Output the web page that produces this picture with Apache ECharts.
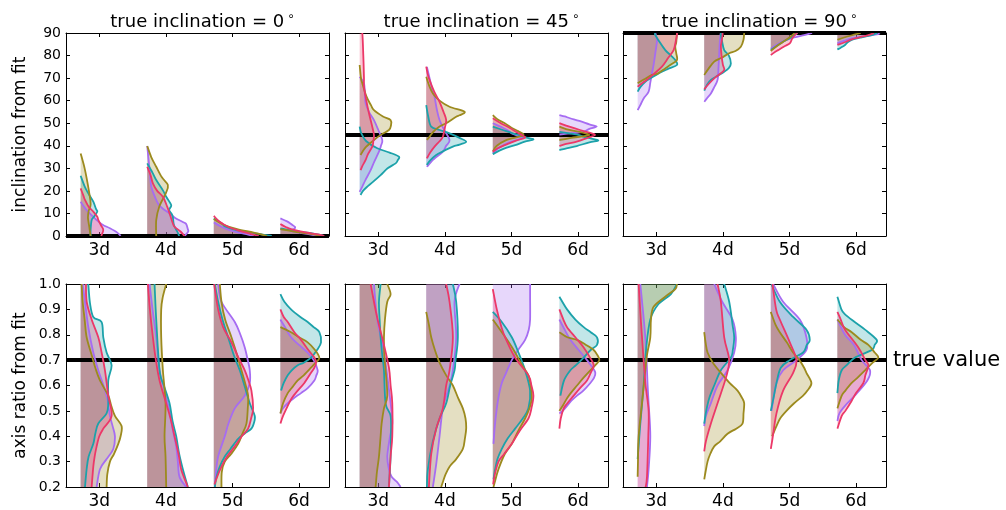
<!DOCTYPE html>
<html><head><meta charset="utf-8">
<script src="https://cdn.jsdelivr.net/npm/echarts@6/dist/echarts.min.js"></script>
<style>html,body{margin:0;padding:0;background:#fff}#c{width:1006px;height:510px}</style>
</head><body><div id="c"></div>
<script>
const categories = ['3d', '4d', '5d', '6d'];
const trueInclinations = [0, 45, 90];
const trueAxisRatio = 0.7;
const incTicks = [0, 10, 20, 30, 40, 50, 60, 70, 80, 90];
const ratioTicks = [0.2, 0.3, 0.4, 0.5, 0.6, 0.7, 0.8, 0.9, 1.0];
const seriesColors = ['#9c8a1e', '#1ca2aa', '#ec3868', '#a66cf2'];
const drawOrder = [3, 1, 0, 2]; // purple, teal, olive, red

// Each array: one half-violin per category, as [value, width in % of category spacing], top to bottom.
// ---- inclination from fit, true inclination = 0
const inc0Olive = [
  [[36.6,0],[30,6],[24,10],[18.9,13],[14,15],[11,12],[8,11],[4,13],[0,15]],
  [[39.9,0],[35,6],[30.7,13.5],[26,22],[22.6,31],[19,28],[13,18],[7,13.5],[0,13.5]],
  [[7.5,0],[5,15],[3,35],[1.5,60],[0,80]],
  [[3,0],[2,20],[1,45],[0,60]]
];
const inc0Teal = [
  [[26.7,0],[22,6],[18.9,11.5],[15.2,19],[12,23],[10.8,25],[8.5,20],[7,16.5],[3,15],[0,15]],
  [[32.2,0],[28,8],[24.8,13.5],[20,24],[17.4,28.5],[13.7,36],[11.5,33],[9,38],[5,40],[2,45],[0,48]],
  [[7.8,0],[5.5,12],[4.1,17.5],[2.5,35],[1.9,47.5],[0.8,70],[0,87]],
  [[3.4,0],[2.5,15],[1.5,40],[0.5,60],[0,65]]
];
const inc0Red = [
  [[21.1,0],[18,4],[16,6.5],[13,12],[10.8,19],[8.5,25],[7.1,26.5],[4.5,31],[2.7,34],[0,31]],
  [[30.7,0],[27,5],[23.3,8.5],[20,15],[17.4,23.5],[13,30],[10,33.5],[6,38],[4.1,41],[2,50],[0,56]],
  [[8.9,0],[7,6],[5.6,12.5],[4,22],[2.4,37.5],[1,55],[0,67.5]],
  [[5.3,0],[4,8],[3,16],[2,30],[1.2,46],[0.5,60],[0,66]]
];
const inc0Purple = [
  [[15.2,0],[13,5],[11.5,9],[9,17],[7.1,24],[5,33],[3.4,44],[1.5,55],[0,60]],
  [[39.9,0],[34,2],[28,4],[21.9,6],[17,12],[14,17],[12,24],[10,33.5],[8,42],[6,55],[5.3,58.5],[3,61],[1.9,61.5],[0,56]],
  [[6,0],[4,12],[2.5,25],[1,45],[0,60]],
  [[7.8,0],[6.5,10],[5.3,16],[4,22],[3,20],[2.4,14],[1.6,25],[1,40],[0,55]]
];
// ---- inclination from fit, true inclination = 45
const inc45Olive = [
  [[75.8,0],[70,2],[67.7,4],[62,10],[58,17],[55.8,21.5],[53,35],[51.4,46.5],[49,47],[47,44],[44.5,30],[42.5,21.5],[39,8],[35.9,1.5]],
  [[70.6,0],[67,4],[63.2,10],[60,20],[57.3,35],[55.1,57.5],[53.5,50],[52.9,45],[50,30],[48.5,20],[46,10],[44,5],[42.6,1]],
  [[53.6,0],[51.5,8],[50,18],[48,28],[46.5,38],[44.8,46],[43.5,32],[42.5,20],[40,6],[37.5,0]],
  [[48.5,0],[47,15],[46,32],[44.8,45],[44,30],[43.5,18],[42.5,0]]
];
const inc45Teal = [
  [[48.5,0],[45.5,2.5],[42,10],[38.9,26.5],[37,45],[35.2,59],[33.5,57],[32.2,54],[30,42],[27,31.5],[24,20],[21.9,11.5],[20,5],[18.2,1.5]],
  [[58,0],[53,3],[48.5,7.5],[47,20],[45.5,35],[43.5,50],[41.8,60],[40.5,50],[39.6,40],[37.5,25],[35.9,15],[33.5,6],[31.5,1]],
  [[48.5,0],[47,15],[45.5,30],[44.8,38.5],[43.5,52],[42.8,61],[41.8,48],[40.3,33.5],[38.5,15],[36.3,0]],
  [[46.2,0],[45.5,15],[44.7,30],[44,36],[43.2,48],[42.3,58.5],[41.5,45],[39.9,26],[39,12],[38.1,0]]
];
const inc45Red = [
  [[96,1],[90,4],[80,5.5],[70,6.5],[66.2,6.5],[60,10],[54.4,14],[49,18.5],[44.8,21.5],[42,20.5],[39.6,19],[36,12],[33.7,9],[31,4],[29.2,1.5]],
  [[75.1,0],[72,2],[69.1,5],[64,12],[59.5,20],[55,26],[51.4,30],[48,28],[44,25],[42,20],[39.6,12.5],[37,6],[34.4,1]],
  [[52.2,0],[50,12],[48,25],[46,36],[44.5,45],[43.5,48],[42.3,35],[40.3,18],[39,8],[37.4,0]],
  [[50,0],[48.5,15],[47,31],[45.8,45],[44.8,53.5],[43.5,42],[41.8,26],[40.8,10],[39.9,0]]
];
const inc45Purple = [
  [[70.6,0],[67.7,6.5],[62,8],[58.8,9],[55,14],[51.4,21.5],[47,28],[42.5,34],[40,32],[37.4,29],[33,22],[29.2,16.5],[25,9],[21.9,4],[19.6,0]],
  [[75,1],[70,5],[65,9],[61.7,12.5],[56,16],[51.4,20],[47,27],[42.5,35],[40,30],[37.4,25],[35,15],[33.7,10],[30.7,1]],
  [[50,0],[48,15],[46.5,24],[45.5,28.5],[44.4,38],[43.3,43.5],[41.5,25],[38.9,8.5],[36.6,0]],
  [[53.6,0],[53,8],[52.2,16],[51,30],[49.5,45],[48.5,56],[47.5,45],[46.2,36],[45.5,16],[45,0]]
];
// ---- inclination from fit, true inclination = 90
const inc90Olive = [
  [[90,59],[86,58],[83.9,56.5],[81,58],[78,59],[76,50],[74.3,41.5],[72,30],[71.4,21.5],[69.5,10],[67.7,0]],
  [[90,60],[87,59],[83.9,55],[82,47],[81,37.5],[79,26],[77.3,15],[74,6],[71.4,0]],
  [[90,36],[88,28],[86,18],[84,8],[82,0]],
  [[90,35],[89,22],[88,10],[87,0]]
];
const inc90Teal = [
  [[90,26],[89.1,26.5],[86,33],[82.4,41.5],[80,50],[78,56.5],[75.8,59],[74,45],[72.1,31.5],[70,20],[68.4,11.5],[66,4],[64,0]],
  [[90,25],[89.1,25],[86,27],[82.4,30],[80,37],[76.5,40],[74.5,37],[72.8,30],[71,20],[69.2,10],[67,4],[64.4,0]],
  [[90,40],[88,30],[86,18],[84,8],[82.5,0]],
  [[90,60],[89.1,51.5],[88,35],[86.9,21.5],[85.8,15],[84.7,11.5],[83.5,5],[82.7,0]]
];
const inc90Red = [
  [[90,59],[89.1,59],[86,57],[82.4,54],[79,46],[75.1,36.5],[72,25],[69.9,16.5],[68,8],[66.2,0]],
  [[90,27.5],[89,27.5],[86,26],[83.9,25],[80,26],[76,28],[73.6,30],[71.5,22],[69.9,15],[67.5,7],[65,0]],
  [[90,40],[89,36],[87.5,32],[85.4,28.5],[84,20],[82.4,11],[81.3,5],[80.2,0]],
  [[90,55],[89.1,46.5],[88,32],[87.2,21.5],[86,12],[84.7,0]]
];
const inc90Purple = [
  [[90,26.5],[86.9,29],[84,28],[81,26.5],[76,24],[72.1,21.5],[68,19],[64,16.5],[61,9],[58,4],[55.8,0]],
  [[90,25],[88,24],[84,23],[81,22.5],[75,21.5],[69.2,20],[66,15],[63.2,10],[61,4],[59.5,0]],
  [[90,62],[89.1,50],[88,35],[86.5,20],[85,10],[84,5],[83,0]],
  [[90,62],[89.5,61],[88.5,40],[87.6,21.5],[86.5,10],[85.4,0]]
];
// ---- axis ratio from fit, true inclination = 0
const ar0Olive = [
  [[1.0,1.5],[0.93,3],[0.86,6],[0.79,9],[0.72,16.5],[0.67,22],[0.62,29],[0.56,41.5],[0.52,46],[0.48,51.5],[0.44,61.5],[0.40,60],[0.37,56.5],[0.33,50],[0.30,44],[0.25,40],[0.2,39]],
  [[1.0,28.5],[0.95,23.5],[0.9,21],[0.79,21],[0.66,23.5],[0.53,27.5],[0.4,26],[0.32,27.5],[0.2,28.5]],
  [[1.0,9],[0.93,11.5],[0.86,17],[0.79,26.5],[0.72,35],[0.66,41.5],[0.61,47],[0.56,51.5],[0.51,51],[0.45,49],[0.41,43],[0.37,36.5],[0.33,26],[0.3,16.5],[0.26,12],[0.2,11.5]],
  [[0.83,0],[0.81,16],[0.79,28],[0.77,41],[0.74,52],[0.71,58.5],[0.69,53],[0.67,46],[0.64,35],[0.62,26],[0.59,17],[0.57,11],[0.53,4],[0.49,0]]
];
const ar0Teal = [
  [[1.0,11.5],[0.925,14],[0.87,19],[0.85,31.5],[0.79,34],[0.73,39],[0.68,46.5],[0.62,41.5],[0.53,41.5],[0.49,39],[0.45,26.5],[0.41,22],[0.37,19],[0.32,12],[0.27,9],[0.2,6.5]],
  [[1.0,11],[0.86,13.5],[0.66,18.5],[0.6,25],[0.53,33.5],[0.46,38],[0.4,43.5],[0.33,48],[0.27,53.5],[0.2,61]],
  [[1.0,1.5],[0.93,6.5],[0.86,13],[0.79,21.5],[0.72,30],[0.66,39],[0.6,46],[0.53,54],[0.48,61.5],[0.45,60],[0.43,56.5],[0.41,46],[0.39,36.5],[0.35,25],[0.32,16.5],[0.28,9],[0.24,4],[0.2,1.5]],
  [[0.96,0],[0.93,6],[0.9,16],[0.87,30],[0.85,41],[0.83,50],[0.81,58.5],[0.77,61],[0.74,55],[0.71,46],[0.69,35],[0.68,26],[0.66,17],[0.64,11],[0.61,5],[0.58,1]]
];
const ar0Red = [
  [[1.0,8],[0.93,9],[0.86,16.5],[0.79,26.5],[0.73,31.5],[0.66,36.5],[0.56,41.5],[0.48,46.5],[0.43,34],[0.40,28],[0.36,24],[0.32,21],[0.28,19],[0.2,16.5]],
  [[1.0,1],[0.9,4],[0.79,8.5],[0.7,13],[0.62,18.5],[0.53,28.5],[0.47,35],[0.4,41],[0.33,47],[0.27,51],[0.22,58],[0.2,61]],
  [[1.0,0.5],[0.9,6.5],[0.83,14],[0.77,26.5],[0.71,37],[0.66,46.5],[0.62,52],[0.58,56.5],[0.51,59],[0.47,56],[0.43,51.5],[0.40,42],[0.36,31.5],[0.32,20],[0.28,11.5],[0.24,5],[0.21,1]],
  [[0.9,0],[0.87,5],[0.85,11],[0.81,21],[0.78,31],[0.74,42],[0.71,51],[0.69,53.5],[0.67,51],[0.65,46],[0.61,36],[0.58,26],[0.55,17],[0.52,11],[0.48,4],[0.45,0]]
];
const ar0Purple = [
  [[1.0,3],[0.93,6.5],[0.83,11.5],[0.73,19],[0.66,26.5],[0.56,39],[0.48,44],[0.44,48],[0.40,51.5],[0.35,49],[0.31,39],[0.27,29],[0.2,24]],
  [[1.0,3.5],[0.9,8],[0.79,13.5],[0.66,18.5],[0.58,26],[0.5,33.5],[0.43,38],[0.36,43.5],[0.3,46],[0.24,48.5],[0.2,58.5]],
  [[1.0,6.5],[0.93,11.5],[0.85,31.5],[0.8,40],[0.75,46.5],[0.7,51],[0.66,54],[0.61,54],[0.56,46.5],[0.51,31.5],[0.45,22],[0.40,16.5],[0.32,6.5],[0.25,3],[0.2,1.5]],
  [[0.86,0],[0.83,7],[0.79,16],[0.76,28],[0.73,41],[0.70,50],[0.66,56],[0.64,54],[0.62,51],[0.59,41],[0.57,31],[0.55,20],[0.53,11],[0.51,4],[0.49,0]]
];
// ---- axis ratio from fit, true inclination = 45
const ar45Olive = [
  [[1.0,41.5],[0.96,46.5],[0.93,41.5],[0.86,38],[0.79,36.5],[0.72,37],[0.66,39],[0.56,41.5],[0.51,36.5],[0.45,33],[0.40,31.5],[0.32,29],[0.26,26],[0.2,24]],
  [[0.89,0],[0.84,4],[0.79,7.5],[0.74,13],[0.69,20],[0.64,30],[0.6,40],[0.55,48],[0.51,55],[0.47,59],[0.43,60],[0.39,58],[0.35,55],[0.31,45],[0.28,35],[0.25,29],[0.22,25],[0.2,22.5]],
  [[0.86,0],[0.81,13.5],[0.77,24],[0.73,33.5],[0.68,44],[0.64,53.5],[0.6,57],[0.55,58.5],[0.51,55],[0.47,48.5],[0.42,38],[0.37,28.5],[0.33,18],[0.27,8.5],[0.22,3],[0.2,1]],
  [[0.81,0],[0.79,12],[0.78,26.5],[0.76,40],[0.74,51.5],[0.72,57],[0.70,60],[0.68,54],[0.66,46.5],[0.63,36],[0.6,26.5],[0.57,17],[0.55,11.5],[0.52,5],[0.5,0]]
];
const ar45Teal = [
  [[1.0,31.5],[0.93,29],[0.86,30],[0.79,31.5],[0.72,34],[0.66,36.5],[0.53,39],[0.48,46.5],[0.4,47],[0.32,46.5],[0.2,44]],
  [[1.0,40],[0.93,45],[0.79,47.5],[0.7,44],[0.66,42.5],[0.6,36],[0.53,30],[0.47,20],[0.38,10],[0.27,2.5],[0.2,1]],
  [[0.89,0],[0.85,13.5],[0.79,28.5],[0.73,38.5],[0.66,48.5],[0.58,56],[0.51,53.5],[0.47,45],[0.43,33.5],[0.39,22],[0.35,13.5],[0.31,7],[0.27,3.5],[0.23,1]],
  [[0.95,0],[0.9,11.5],[0.86,24],[0.83,36.5],[0.81,47],[0.79,56.5],[0.76,56.5],[0.74,47],[0.71,36.5],[0.68,25],[0.66,16.5],[0.62,7],[0.56,1.5]]
];
const ar45Red = [
  [[1.0,16.5],[0.93,21.5],[0.86,27],[0.76,36.5],[0.67,44],[0.6,46.5],[0.53,49],[0.4,49],[0.32,46.5],[0.2,44]],
  [[1.0,30],[0.93,35],[0.79,40],[0.66,35],[0.6,30],[0.51,25],[0.43,15],[0.33,7.5],[0.2,4]],
  [[0.98,0],[0.9,6],[0.83,13],[0.79,18.5],[0.71,33.5],[0.64,53.5],[0.6,58],[0.56,61],[0.51,58],[0.47,53.5],[0.42,40],[0.37,28.5],[0.33,17],[0.3,8.5],[0.25,3],[0.21,0.5]],
  [[0.9,0],[0.86,6],[0.83,11.5],[0.79,24],[0.75,36.5],[0.71,46],[0.68,51.5],[0.65,47],[0.62,41.5],[0.59,31],[0.56,21.5],[0.53,12],[0.51,6.5],[0.47,2],[0.43,0]]
];
const ar45Purple = [
  [[1.0,21.5],[0.86,26.5],[0.73,36.5],[0.53,46.5],[0.45,49],[0.39,45],[0.32,41.5],[0.27,44],[0.24,48],[0.22,56],[0.2,61.5]],
  [[1.0,50],[0.93,42.5],[0.79,45],[0.66,40],[0.6,35],[0.51,25],[0.4,20],[0.29,15],[0.2,10]],
  [[1.0,56],[0.95,56],[0.86,56],[0.82,54],[0.78,48.5],[0.74,38],[0.7,28.5],[0.65,20],[0.61,13.5],[0.56,9],[0.51,6],[0.44,3],[0.37,1]],
  [[0.86,0],[0.82,8],[0.78,16.5],[0.74,29],[0.7,41.5],[0.67,50],[0.65,54],[0.63,52],[0.61,46.5],[0.58,36],[0.56,26.5],[0.54,18],[0.52,11.5],[0.5,5],[0.49,0]]
];
// ---- axis ratio from fit, true inclination = 90
const ar90Olive = [
  [[1.0,59],[0.98,56.5],[0.95,41.5],[0.91,24],[0.86,20],[0.79,19],[0.72,14],[0.66,11.5],[0.53,6.5],[0.4,1.5],[0.3,0.5],[0.24,0]],
  [[0.81,0],[0.77,2],[0.73,5],[0.69,13],[0.65,25],[0.61,38],[0.58,50],[0.55,57],[0.53,60],[0.49,59],[0.45,57.5],[0.43,48],[0.41,35],[0.38,24],[0.36,15],[0.33,9],[0.3,5],[0.26,2],[0.23,0]],
  [[0.89,0],[0.84,7],[0.81,13.5],[0.77,24],[0.73,33.5],[0.7,43],[0.67,50],[0.65,53.5],[0.61,61],[0.58,55],[0.56,48.5],[0.53,35],[0.5,23.5],[0.47,14],[0.44,8.5],[0.4,2]],
  [[0.86,0],[0.83,10],[0.81,21.5],[0.78,35],[0.76,46.5],[0.73,56],[0.71,61.5],[0.69,53],[0.66,41.5],[0.63,30],[0.61,21.5],[0.58,12],[0.56,6.5],[0.51,0]]
];
const ar90Teal = [
  [[1.0,59],[0.96,50],[0.92,31],[0.86,19],[0.75,13],[0.6,9],[0.45,4],[0.31,0]],
  [[1.0,30],[0.93,37.5],[0.84,42.5],[0.79,45],[0.74,43],[0.71,40],[0.66,25],[0.6,15],[0.55,7.5],[0.5,3],[0.45,0]],
  [[1.0,1],[0.93,13.5],[0.87,33.5],[0.82,53.5],[0.78,58.5],[0.76,54],[0.73,48.5],[0.7,28.5],[0.67,15],[0.61,8.5],[0.55,4],[0.5,0]],
  [[0.95,0],[0.9,6],[0.88,11.5],[0.85,26],[0.82,41.5],[0.78,59],[0.76,56],[0.74,51.5],[0.71,26.5],[0.68,14],[0.66,6.5],[0.62,2],[0.57,0]]
];
const ar90Red = [
  [[1.0,1.5],[0.85,5],[0.7,9],[0.6,12],[0.5,16.5],[0.4,16],[0.24,14],[0.2,12]],
  [[1.0,20],[0.93,25],[0.79,30],[0.7,37.5],[0.63,32.5],[0.53,20],[0.45,10],[0.38,2.5],[0.34,0]],
  [[1.0,2.5],[0.9,8],[0.86,13.5],[0.77,28.5],[0.7,38.5],[0.65,33.5],[0.58,18.5],[0.49,8.5],[0.39,2.5],[0.35,0]],
  [[0.89,0],[0.86,5],[0.82,11.5],[0.75,31.5],[0.7,42],[0.68,46.5],[0.64,42],[0.61,39],[0.57,28],[0.54,21.5],[0.5,12],[0.48,6.5],[0.43,0]]
];
const ar90Purple = [
  [[1.0,4],[0.79,11.5],[0.6,15],[0.53,16.5],[0.4,19],[0.27,16.5],[0.2,14]],
  [[1.0,15],[0.93,27],[0.86,42.5],[0.79,47.5],[0.73,45],[0.66,35],[0.6,20],[0.53,10],[0.48,2.5],[0.44,0]],
  [[1.0,3.5],[0.93,18.5],[0.86,43.5],[0.79,53.5],[0.74,53.5],[0.7,38.5],[0.66,18.5],[0.61,8.5],[0.5,1]],
  [[0.86,0],[0.8,11.5],[0.76,25],[0.7,36.5],[0.66,49],[0.62,45],[0.56,26],[0.52,11.5],[0.49,3],[0.46,0]]
];

const panelCurves = [
  [inc0Olive, inc0Teal, inc0Red, inc0Purple],
  [inc45Olive, inc45Teal, inc45Red, inc45Purple],
  [inc90Olive, inc90Teal, inc90Red, inc90Purple],
  [ar0Olive, ar0Teal, ar0Red, ar0Purple],
  [ar45Olive, ar45Teal, ar45Red, ar45Purple],
  [ar90Olive, ar90Teal, ar90Red, ar90Purple]
];

// ---- layout / style
const FONT = 'DejaVu Sans';
const colLeft = [66, 345, 623], colW = 263;
const rowTop = [33, 284], rowH = [203, 204];
const BASE_OFFSET = -0.28;
const X_MIN = -0.5, X_MAX = 3.45;

function hexA(hex, a) {
  const n = parseInt(hex.slice(1), 16);
  return `rgba(${n >> 16},${(n >> 8) & 255},${n & 255},${a})`;
}
function spline(P) {
  let d = '';
  for (let k = 0; k < P.length - 1; k++) {
    const p0 = P[k - 1] || P[k], p1 = P[k], p2 = P[k + 1], p3 = P[k + 2] || P[k + 1];
    const c1 = [p1[0] + (p2[0] - p0[0]) / 6, p1[1] + (p2[1] - p0[1]) / 6];
    const c2 = [p2[0] - (p3[0] - p1[0]) / 6, p2[1] - (p3[1] - p1[1]) / 6];
    d += ` C${c1[0]},${c1[1]} ${c2[0]},${c2[1]} ${p2[0]},${p2[1]}`;
  }
  return d;
}
function makeRender(curves, color, part) {
  return function (params, api) {
    const i = params.dataIndex;
    const pts = curves[i];
    const base = i + BASE_OFFSET;
    const P = pts.map(p => api.coord([base + p[1] / 100, p[0]]));
    const c = spline(P);
    if (part === 'fill') {
      const b0 = api.coord([base, pts[0][0]]);
      const b1 = api.coord([base, pts[pts.length - 1][0]]);
      return { type: 'path', shape: { pathData: `M${b0[0]},${b0[1]} L${P[0][0]},${P[0][1]}${c} L${b1[0]},${b1[1]} Z` },
        style: { fill: hexA(color, 0.27), stroke: null } };
    }
    return { type: 'path', shape: { pathData: `M${P[0][0]},${P[0][1]}${c}` },
      style: { fill: null, stroke: color, lineWidth: 1.8 } };
  };
}

const grids = [], xAxes = [], yAxes = [], series = [], titles = [];
for (let g = 0; g < 6; g++) {
  const row = g < 3 ? 0 : 1, col = g % 3;
  grids.push({ left: colLeft[col], top: rowTop[row], width: colW, height: rowH[row] });
  const xBase = {
    gridIndex: g, type: 'value', min: X_MIN, max: X_MAX,
    axisLine: { show: true, onZero: false, lineStyle: { color: '#000', width: 1 } },
    axisTick: { show: true, inside: true, length: 4, customValues: [0, 1, 2, 3], lineStyle: { color: '#000' } },
    splitLine: { show: false }
  };
  xAxes.push(Object.assign({}, xBase, { position: 'bottom',
    axisLabel: { show: true, customValues: [0, 1, 2, 3], formatter: v => categories[Math.round(v)] || '',
      fontSize: 17, color: '#000', fontFamily: FONT, margin: 6 } }));
  xAxes.push(Object.assign({}, xBase, { position: 'top', axisLabel: { show: false } }));
  const isInc = row === 0;
  const yBase = {
    gridIndex: g, type: 'value',
    min: isInc ? incTicks[0] : ratioTicks[0], max: isInc ? incTicks[incTicks.length - 1] : ratioTicks[ratioTicks.length - 1],
    axisLine: { show: true, onZero: false, lineStyle: { color: '#000', width: 1 } },
    axisTick: { show: true, inside: true, length: 4, customValues: isInc ? incTicks : ratioTicks, lineStyle: { color: '#000' } },
    splitLine: { show: false }
  };
  yAxes.push(Object.assign({}, yBase, { position: 'left',
    name: col === 0 ? (isInc ? 'inclination from fit' : 'axis ratio from fit') : '',
    nameLocation: 'middle', nameRotate: 90, nameGap: 37,
    nameTextStyle: { fontSize: 17, color: '#000', fontFamily: FONT },
    axisLabel: { show: col === 0, customValues: isInc ? incTicks : ratioTicks,
      formatter: v => isInc ? String(Math.round(v)) : v.toFixed(1),
      fontSize: 14, color: '#000', fontFamily: FONT, margin: 5 } }));
  yAxes.push(Object.assign({}, yBase, { position: 'right', axisLabel: { show: false } }));

  const refVal = isInc ? trueInclinations[col] : trueAxisRatio;
  const lastPanel = g === 5;
  const data = categories.map((c, i) => [i, 0]);
  drawOrder.forEach(s => {
    series.push({
      type: 'custom', xAxisIndex: 2 * g, yAxisIndex: 2 * g, clip: true, z: 2, silent: true,
      renderItem: makeRender(panelCurves[g][s], seriesColors[s], 'fill'),
      encode: { x: 0, y: 1 }, data: data
    });
  });
  series.push({
    type: 'line', xAxisIndex: 2 * g, yAxisIndex: 2 * g, data: [], z: 3, silent: true,
    markLine: { silent: true, z: 3, symbol: ['none', 'none'], animation: false,
      data: [{ yAxis: refVal }],
      lineStyle: { color: '#000', width: 4, type: 'solid', opacity: 1 },
      label: { show: lastPanel, position: 'end', formatter: 'true value', fontSize: 21,
        color: '#000', fontFamily: FONT, distance: 7 },
      emphasis: { disabled: true } }
  });
  drawOrder.forEach(s => {
    series.push({
      type: 'custom', xAxisIndex: 2 * g, yAxisIndex: 2 * g, clip: true, z: 4, silent: true,
      renderItem: makeRender(panelCurves[g][s], seriesColors[s], 'line'),
      encode: { x: 0, y: 1 }, data: data
    });
  });
}
trueInclinations.forEach((t, col) => {
  titles.push({
    text: `{t|true inclination = ${t}}{d|∘}`,
    left: colLeft[col] + colW / 2, top: 6, textAlign: 'center',
    textStyle: { fontWeight: 'normal', rich: {
      t: { fontSize: 18, color: '#000', fontFamily: FONT, fontWeight: 'normal', lineHeight: 22 },
      d: { fontSize: 12, color: '#000', fontFamily: FONT, fontWeight: 'normal', verticalAlign: 'top', lineHeight: 13, padding: [0, 0, 0, 3] }
    } }
  });
});

const chart = echarts.init(document.getElementById('c'), null, { renderer: 'canvas' });
chart.setOption({
  animation: false,
  backgroundColor: '#fff',
  title: titles,
  grid: grids,
  xAxis: xAxes,
  yAxis: yAxes,
  series: series
});
</script>
</body></html>
